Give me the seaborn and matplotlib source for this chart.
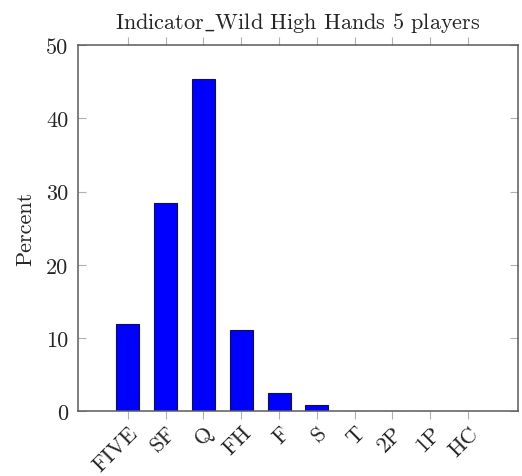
import matplotlib
matplotlib.use("Agg")
import matplotlib.pyplot as plt
import seaborn as sns
import pandas as pd

hands = ["FIVE", "SF", "Q", "FH", "F", "S", "T", "2P", "1P", "HC"]
percent = [11.9, 28.4, 45.3, 11.1, 2.5, 0.9, 0.08, 0.04, 0.02, 0.01]
yticks = [0, 10, 20, 30, 40, 50]

df = pd.DataFrame({"hand": hands, "percent": percent})

sns.set_theme(style="white")
plt.rcParams["font.family"] = ["cmr10", "DejaVu Serif"]
plt.rcParams["axes.formatter.use_mathtext"] = True
plt.rcParams["mathtext.fontset"] = "cm"

fs = 16

fig = plt.figure(figsize=(5.22, 4.77), dpi=100)
ax = fig.add_axes([0.1494, 0.1356, 0.8429, 0.768])

sns.barplot(data=df, x="hand", y="percent", order=hands, color="#0000ff",
            saturation=1, width=0.61, edgecolor="#10104a", linewidth=0.8, ax=ax)

ax.set_xlim(-1.32, 10.32)
ax.set_ylim(0, 50)
ax.set_yticks(yticks)
ax.set_yticklabels([str(v) for v in yticks], fontsize=fs)
ax.set_xticks(range(len(hands)))
ax.set_xticklabels(hands, fontsize=fs, rotation=45, ha="right",
                   rotation_mode="anchor")
ax.set_xlabel("")
ax.set_ylabel("Percent", fontsize=fs, labelpad=8)
ax.set_title(r"Indicator$\_$Wild High Hands 5 players", fontsize=fs, pad=12)

frame = "#5a5a5a"
for s in ax.spines.values():
    s.set_visible(True)
    s.set_color(frame)
    s.set_linewidth(1.1)

ax.tick_params(axis="x", which="both", direction="out", length=6, width=0.8,
               color="#b0b0b0", top=True, bottom=True, pad=2)
ax.tick_params(axis="y", which="both", direction="in", length=6, width=0.8,
               color="#b0b0b0", left=True, right=True, pad=7)

fig.savefig("out.png", dpi=100)
